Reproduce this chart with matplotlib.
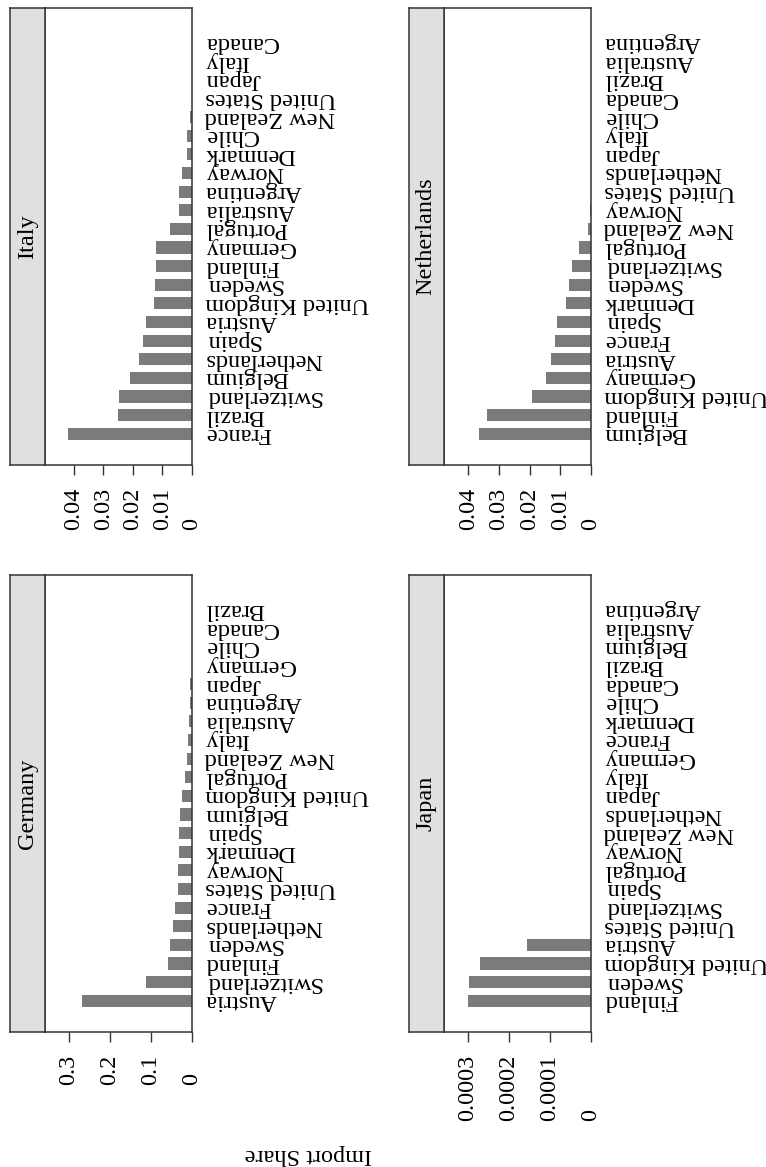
import numpy as np
import matplotlib
matplotlib.use("Agg")
import matplotlib.pyplot as plt
from matplotlib.transforms import blended_transform_factory, offset_copy

W, H = 766, 1167
plt.rcParams['font.family'] = ['Liberation Serif', 'DejaVu Serif']
plt.rcParams['font.size'] = 17.5

BAR = '#7b7b7e'
STRIP = '#e0e0e2'
EDGE = '#333333'

# partner countries per importer, first entry = largest share (bottom bar)
italy_countries = ["France", "Brazil", "Switzerland", "Belgium", "Netherlands", "Spain",
                   "Austria", "United Kingdom", "Sweden", "Finland", "Germany", "Portugal",
                   "Australia", "Argentina", "Norway", "Denmark", "Chile", "New Zealand",
                   "United States", "Japan", "Italy", "Canada"]
italy_share = [0.0418, 0.0250, 0.0246, 0.0211, 0.0179, 0.0166,
               0.0154, 0.0128, 0.0126, 0.0123, 0.0121, 0.0074,
               0.0045, 0.0044, 0.0034, 0.0018, 0.0016, 0.0007,
               0.0, 0.0, 0.0, 0.0]
italy_ticks = [0, 0.01, 0.02, 0.03, 0.04]

neth_countries = ["Belgium", "Finland", "United Kingdom", "Germany", "Austria", "France",
                  "Spain", "Denmark", "Sweden", "Switzerland", "Portugal", "New Zealand",
                  "Norway", "United States", "Netherlands", "Japan", "Italy", "Chile",
                  "Canada", "Brazil", "Australia", "Argentina"]
neth_share = [0.0366, 0.0339, 0.0191, 0.0148, 0.0132, 0.0118,
              0.0111, 0.0082, 0.0071, 0.0063, 0.0039, 0.0010,
              0.0004, 0.0, 0.0, 0.0, 0.0, 0.0,
              0.0, 0.0, 0.0, 0.0]
neth_ticks = [0, 0.01, 0.02, 0.03, 0.04]

germany_countries = ["Austria", "Switzerland", "Finland", "Sweden", "Netherlands", "France",
                     "United States", "Norway", "Denmark", "Spain", "Belgium", "United Kingdom",
                     "Portugal", "New Zealand", "Italy", "Australia", "Argentina", "Japan",
                     "Germany", "Chile", "Canada", "Brazil"]
germany_share = [0.268, 0.113, 0.059, 0.053, 0.047, 0.041,
                 0.035, 0.034, 0.032, 0.031, 0.029, 0.024,
                 0.018, 0.012, 0.010, 0.008, 0.005, 0.004,
                 0.0, 0.0, 0.0, 0.0]
germany_ticks = [0, 0.1, 0.2, 0.3]

japan_countries = ["Finland", "Sweden", "United Kingdom", "Austria", "United States",
                   "Switzerland", "Spain", "Portugal", "Norway", "New Zealand", "Netherlands",
                   "Japan", "Italy", "Germany", "France", "Denmark", "Chile", "Canada",
                   "Brazil", "Belgium", "Australia", "Argentina"]
japan_share = [0.000300, 0.000298, 0.000271, 0.000155, 0.0,
               0.0, 0.0, 0.0, 0.0, 0.0, 0.0,
               0.0, 0.0, 0.0, 0.0, 0.0, 0.0, 0.0,
               0.0, 0.0, 0.0, 0.0]
japan_ticks = [0, 0.0001, 0.0002, 0.0003]

fig = plt.figure(figsize=(W / 100, H / 100), dpi=100)
fig.patch.set_facecolor('white')


def px_rect(x0, y0, x1, y1):
    return [x0 / W, 1 - y1 / H, (x1 - x0) / W, (y1 - y0) / H]


def draw_panel(title, countries, shares, ticks, xmax, box):
    x0, y0, x1, y1 = box
    strip_w = 34.5
    ax = fig.add_axes(px_rect(x0 + strip_w, y0, x1, y1))
    st = fig.add_axes(px_rect(x0, y0, x0 + strip_w, y1))

    pos = np.arange(1, len(countries) + 1)
    ax.barh(pos, shares, height=0.65, color=BAR, linewidth=0)
    ax.set_xlim(xmax, 0)
    ax.set_ylim(-0.68, len(countries) + 1.86)
    ax.set_yticks([])
    ax.set_xticks(ticks)
    ax.set_xticklabels([])
    ax.tick_params(axis='x', direction='out', length=7.2, width=1.0, color=EDGE)
    for s in ax.spines.values():
        s.set_color(EDGE)
        s.set_linewidth(1.1)

    # country names next to the bars
    lab_tr = offset_copy(ax.get_yaxis_transform(), fig=fig, x=13, units='dots')
    for p, name in zip(pos, countries):
        ax.text(1, p, name, transform=lab_tr, rotation=180, ha='left', va='center',
                clip_on=False)

    # strip with the panel title
    st.set_facecolor(STRIP)
    st.set_xticks([])
    st.set_yticks([])
    for s in st.spines.values():
        s.set_color(EDGE)
        s.set_linewidth(1.1)
    st.text(0.5, 0.5, title, rotation=90, ha='center', va='center', transform=st.transAxes)

    # value labels, aligned on a common edge below the ticks
    tr = blended_transform_factory(ax.transData, fig.transFigure)
    texts = [ax.text(t, 0, '%g' % t, transform=tr, rotation=90, ha='center',
                     va='bottom', clip_on=False) for t in ticks]
    renderer = fig.canvas.get_renderer()
    maxlen = max(t.get_window_extent(renderer).height for t in texts)
    ybot = y1 + 23 + maxlen
    for t in texts:
        t.set_y(1 - ybot / H)


draw_panel("Italy", italy_countries, italy_share, italy_ticks, 0.0498, (10, 8, 192, 465))
draw_panel("Netherlands", neth_countries, neth_share, neth_ticks, 0.0481, (409, 8, 591, 465))
draw_panel("Germany", germany_countries, germany_share, germany_ticks, 0.3585, (10, 575, 192, 1032))
draw_panel("Japan", japan_countries, japan_share, japan_ticks, 0.000360, (409, 575, 591, 1032))

fig.text(308 / W, 1 - 1155 / H, "Import Share", rotation=180, ha='center', va='center')

fig.savefig("out.png", dpi=100)
